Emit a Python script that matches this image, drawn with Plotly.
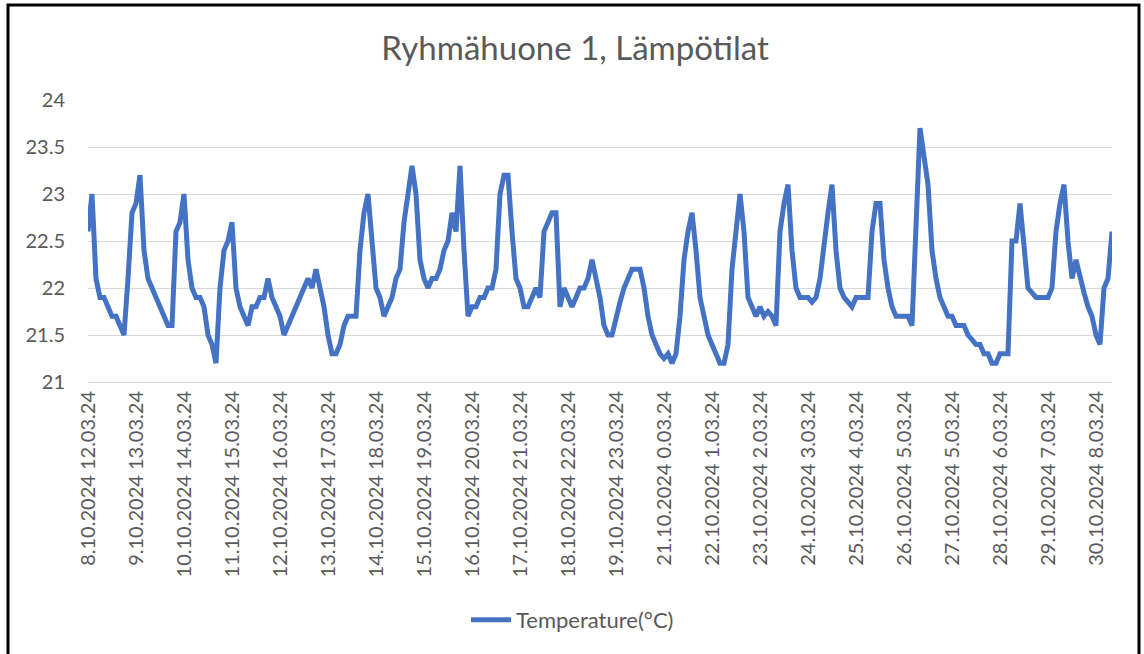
import plotly.graph_objects as go

title_text = "Ryhmähuone 1, Lämpötilat"
series_name = "Temperature(°C)"

tick_labels = [
    "8.10.2024 12.03.24", "9.10.2024 13.03.24", "10.10.2024 14.03.24",
    "11.10.2024 15.03.24", "12.10.2024 16.03.24", "13.10.2024 17.03.24",
    "14.10.2024 18.03.24", "15.10.2024 19.03.24", "16.10.2024 20.03.24",
    "17.10.2024 21.03.24", "18.10.2024 22.03.24", "19.10.2024 23.03.24",
    "21.10.2024 0.03.24", "22.10.2024 1.03.24", "23.10.2024 2.03.24",
    "24.10.2024 3.03.24", "25.10.2024 4.03.24", "26.10.2024 5.03.24",
    "27.10.2024 5.03.24", "28.10.2024 6.03.24", "29.10.2024 7.03.24",
    "30.10.2024 8.03.24",
]

points_per_label = 12

temperature = [
    # 8.10
    22.6, 23.0, 22.1, 21.9, 21.9, 21.8, 21.7, 21.7, 21.6, 21.5, 22.1, 22.8,
    # 9.10
    22.9, 23.2, 22.4, 22.1, 22.0, 21.9, 21.8, 21.7, 21.6, 21.6, 22.6, 22.7,
    # 10.10
    23.0, 22.3, 22.0, 21.9, 21.9, 21.8, 21.5, 21.4, 21.2, 22.0, 22.4, 22.5,
    # 11.10
    22.7, 22.0, 21.8, 21.7, 21.6, 21.8, 21.8, 21.9, 21.9, 22.1, 21.9, 21.8,
    # 12.10
    21.7, 21.5, 21.6, 21.7, 21.8, 21.9, 22.0, 22.1, 22.0, 22.2, 22.0, 21.8,
    # 13.10
    21.5, 21.3, 21.3, 21.4, 21.6, 21.7, 21.7, 21.7, 22.4, 22.8, 23.0, 22.5,
    # 14.10
    22.0, 21.9, 21.7, 21.8, 21.9, 22.1, 22.2, 22.7, 23.0, 23.3, 23.0, 22.3,
    # 15.10
    22.1, 22.0, 22.1, 22.1, 22.2, 22.4, 22.5, 22.8, 22.6, 23.3, 22.4, 21.7,
    # 16.10
    21.8, 21.8, 21.9, 21.9, 22.0, 22.0, 22.2, 23.0, 23.2, 23.2, 22.6, 22.1,
    # 17.10
    22.0, 21.8, 21.8, 21.9, 22.0, 21.9, 22.6, 22.7, 22.8, 22.8, 21.8, 22.0,
    # 18.10
    21.9, 21.8, 21.9, 22.0, 22.0, 22.1, 22.3, 22.1, 21.9, 21.6, 21.5, 21.5,
    # 19.10
    21.7, 21.85, 22.0, 22.1, 22.2, 22.2, 22.2, 22.0, 21.7, 21.5, 21.4, 21.3,
    # 21.10
    21.25, 21.3, 21.2, 21.3, 21.7, 22.3, 22.6, 22.8, 22.4, 21.9, 21.7, 21.5,
    # 22.10
    21.4, 21.3, 21.2, 21.2, 21.4, 22.2, 22.6, 23.0, 22.6, 21.9, 21.8, 21.7,
    # 23.10
    21.8, 21.7, 21.75, 21.7, 21.6, 22.6, 22.9, 23.1, 22.4, 22.0, 21.9, 21.9,
    # 24.10
    21.9, 21.85, 21.9, 22.1, 22.5, 22.8, 23.1, 22.4, 22.0, 21.9, 21.85, 21.8,
    # 25.10
    21.9, 21.9, 21.9, 21.9, 22.6, 22.9, 22.9, 22.3, 22.0, 21.8, 21.7, 21.7,
    # 26.10
    21.7, 21.7, 21.6, 22.8, 23.7, 23.4, 23.1, 22.4, 22.1, 21.9, 21.8, 21.7,
    # 27.10
    21.7, 21.6, 21.6, 21.6, 21.5, 21.45, 21.4, 21.4, 21.3, 21.3, 21.2, 21.2,
    # 28.10
    21.3, 21.3, 21.3, 22.5, 22.5, 22.9, 22.4, 22.0, 21.95, 21.9, 21.9, 21.9,
    # 29.10
    21.9, 22.0, 22.6, 22.9, 23.1, 22.5, 22.1, 22.3, 22.1, 21.95, 21.8, 21.7,
    # 30.10
    21.5, 21.4, 22.0, 22.1, 22.6,
]

y_ticks = [21, 21.5, 22, 22.5, 23, 23.5, 24]

x_index = list(range(len(temperature)))
tick_positions = [i * points_per_label for i in range(len(tick_labels))]

FONT = "Lato"
GRAY = "#595959"

fig = go.Figure()
fig.add_trace(go.Scatter(
    x=x_index, y=temperature, mode="lines", name=series_name,
    line=dict(color="#4472C4", width=5),
))

W, H = 1144, 654
L, R, T, B = 88, 32, 100, 272
pw, ph = W - L - R, H - T - B

def px_x(v):
    return (v - L) / pw

def px_y(v):
    return (H - B - v) / ph

fig.update_layout(
    width=W, height=H,
    margin=dict(l=L, r=R, t=T, b=B, autoexpand=False),
    paper_bgcolor="white", plot_bgcolor="white",
    font=dict(family=FONT, color=GRAY, size=20),
    title=dict(text=title_text, x=575 / W, xanchor="center",
               y=1 - 48 / H, yanchor="middle", yref="container",
               font=dict(family=FONT, size=33, color=GRAY)),
    showlegend=True,
    legend=dict(orientation="h", x=px_x(466), xanchor="left",
                y=px_y(620), yanchor="middle",
                font=dict(family=FONT, size=22, color=GRAY),
                itemwidth=40, bgcolor="rgba(0,0,0,0)"),
    xaxis=dict(
        range=[0, len(temperature) - 1], tickmode="array",
        tickvals=tick_positions, ticktext=tick_labels, tickangle=-90,
        showgrid=False, zeroline=False, showline=True, linecolor="#D9D9D9",
        linewidth=1, ticks="", tickfont=dict(family=FONT, size=20, color=GRAY),
        ticklabelstandoff=0,
    ),
    yaxis=dict(
        range=[21, 24], tickmode="array", tickvals=y_ticks,
        ticktext=[f"{v:g}" for v in y_ticks],
        showgrid=True, gridcolor="#D9D9D9", gridwidth=1, zeroline=False,
        showline=False, ticks="", tickfont=dict(family=FONT, size=20, color=GRAY),
        ticklabelstandoff=22,
    ),
    shapes=[dict(type="rect", xref="paper", yref="paper",
                 x0=px_x(8), x1=px_x(1139), y0=px_y(700), y1=px_y(5),
                 line=dict(color="black", width=3), fillcolor="rgba(0,0,0,0)",
                 layer="above")],
)

fig.write_html("out.html", config={"displayModeBar": False},
               post_script="document.body.style.margin='0';")
